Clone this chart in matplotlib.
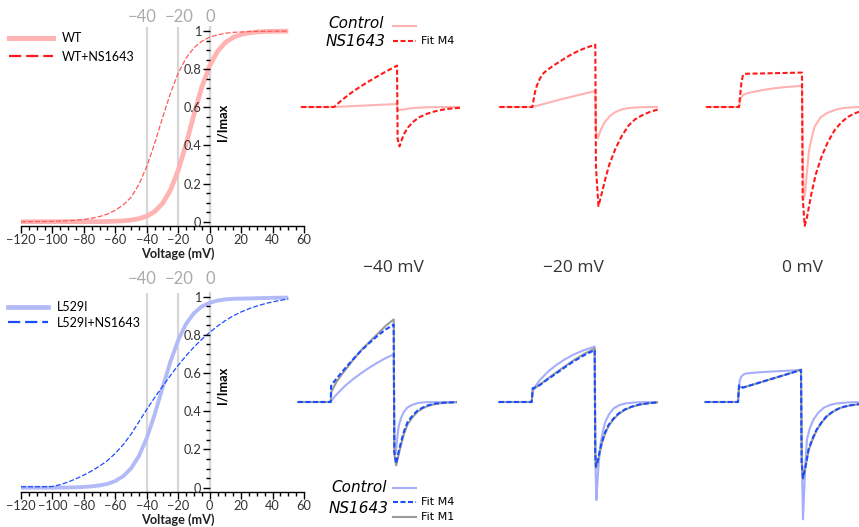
import numpy as np
import matplotlib
matplotlib.use("Agg")
import matplotlib.pyplot as plt
import matplotlib.transforms as mtransforms
from matplotlib.lines import Line2D
from matplotlib.ticker import MultipleLocator

plt.rcParams['font.family'] = ['Lato', 'DejaVu Sans']

# Activation curves (I/Imax), every 5 mV
voltage_mv = list(range(-120, 55, 5))
wt = [0.000, 0.000, 0.000, 0.000, 0.000, 0.000, 0.0001, 0.0001, 0.0002, 0.0004,
      0.0007, 0.0013, 0.0025, 0.0046, 0.0086, 0.016, 0.029, 0.053, 0.095, 0.165,
      0.269, 0.407, 0.562, 0.706, 0.818, 0.893, 0.940, 0.967, 0.982, 0.990,
      0.995, 0.997, 0.998, 0.999, 0.999]
wt_ns = [0.000, 0.000, 0.001, 0.001, 0.002, 0.003, 0.005, 0.008, 0.012, 0.018,
         0.027, 0.040, 0.060, 0.088, 0.128, 0.195, 0.290, 0.410, 0.545, 0.672,
         0.780, 0.858, 0.912, 0.946, 0.968, 0.980, 0.988, 0.993, 0.995, 0.997,
         0.998, 0.998, 0.999, 0.999, 0.999]
l529i = [0.000, 0.000, 0.000, 0.000, 0.000, 0.001, 0.001, 0.002, 0.004, 0.007,
         0.012, 0.020, 0.035, 0.060, 0.101, 0.166, 0.260, 0.383, 0.523, 0.659,
         0.773, 0.858, 0.914, 0.949, 0.968, 0.980, 0.986, 0.989, 0.990, 0.991,
         0.992, 0.993, 0.994, 0.995, 0.995]
l529i_ns = [0.005, 0.005, 0.005, 0.005, 0.006, 0.016, 0.030, 0.047, 0.066, 0.088,
            0.113, 0.142, 0.180, 0.225, 0.280, 0.345, 0.410, 0.472, 0.530, 0.587,
            0.641, 0.691, 0.736, 0.777, 0.813, 0.846, 0.875, 0.900, 0.920, 0.937,
            0.951, 0.963, 0.973, 0.981, 0.988]

marker_mv = [-40, -20, 0]
marker_labels = ['\u221240', '\u221220', '0']
ytick_vals = [0, 0.2, 0.4, 0.6, 0.8, 1]
ytick_labels = ['0', '0.2', '0.4', '0.6', '0.8', '1']
step_labels = ['\u221240 mV', '\u221220 mV', '0 mV']

# Current traces as (time ms, current a.u.), pulse runs from 0 to 100 ms
top_m40_ctrl = [(-52, 0), (0, 0), (100, 0.15), (101, -0.17), (110, -0.12), (126, -0.05),
                (150, -0.01), (200, 0)]
top_m40_m4 = [(-52, 0), (0, 0), (10, 0.28), (20, 0.53), (30, 0.77), (40, 0.98), (50, 1.18),
              (60, 1.37), (70, 1.55), (80, 1.73), (90, 1.90), (100, 2.07), (101, -1.6),
              (104, -1.97), (108, -1.6), (112, -1.3), (118, -1.0), (126, -0.73), (135, -0.52),
              (145, -0.37), (155, -0.26), (165, -0.18), (175, -0.12), (185, -0.08), (200, -0.04)]
top_m20_ctrl = [(-52, 0), (0, 0), (50, 0.42), (100, 0.8), (101, -1.2), (104, -1.58), (108, -1.2),
                (112, -0.92), (116, -0.72), (123, -0.45), (132, -0.25), (142, -0.12),
                (153, -0.05), (170, -0.01), (200, 0)]
top_m20_m4 = [(-52, 0), (0, 0), (2, 0.35), (4, 0.7), (7, 1.05), (12, 1.42), (18, 1.7), (25, 1.88),
              (35, 2.1), (45, 2.3), (55, 2.5), (65, 2.68), (75, 2.83), (85, 2.96), (100, 3.12),
              (101, -3.0), (105, -4.95), (108, -4.6), (112, -4.1), (116, -3.58), (122, -2.9),
              (132, -2.08), (142, -1.45), (153, -0.92), (163, -0.62), (174, -0.42), (187, -0.24),
              (200, -0.12)]
top_0_ctrl = [(-52, 0), (0, 0), (2, 0.35), (4, 0.5), (6.3, 0.6), (12, 0.68), (25, 0.77), (40, 0.86),
              (57, 0.94), (75, 1.0), (100, 1.06), (101.5, -3.0), (103, -4.6), (105, -4.3),
              (108, -3.2), (111, -2.2), (115, -1.6), (120, -0.98), (130, -0.5), (141, -0.28),
              (155, -0.12), (168, -0.04), (185, -0.01), (200, 0)]
top_0_m4 = [(-52, 0), (0, 0), (1.5, 0.5), (3.7, 1.18), (6.3, 1.6), (9, 1.66), (100, 1.72),
            (101, -4.5), (104.3, -5.94), (108, -5.5), (115, -4.32), (122, -3.35), (131, -2.49),
            (141, -1.75), (152, -1.15), (162, -0.78), (173, -0.49), (185, -0.3), (200, -0.15)]

bot_m40_ctrl = [(-52, 0), (0, 0), (5, 0.22), (10, 0.4), (22.5, 0.8), (35, 1.13), (48.7, 1.45),
                (62, 1.73), (75, 1.98), (87, 2.19), (100, 2.38), (101, -2.0), (102.5, -2.6),
                (104, -2.3), (106, -1.7), (108, -1.2), (111.7, -0.8), (116, -0.5), (122, -0.27),
                (127.6, -0.17), (138, -0.05), (150, -0.01), (200, 0)]
bot_m40_m4 = [(-52, 0), (0, 0), (0.6, 0.8), (5, 1.0), (10, 1.2), (22.5, 1.67), (35, 2.12),
              (48.7, 2.58), (62, 2.97), (75, 3.33), (87, 3.62), (100, 3.87), (101, -2.5),
              (103.8, -3.08), (107, -2.6), (111.7, -2.0), (116, -1.5), (122, -1.0), (130, -0.68),
              (138, -0.42), (146, -0.28), (154, -0.17), (166, -0.08), (180, -0.035), (200, -0.01)]
bot_m40_m1 = [(-52, 0), (0, 0), (1, 0.5), (4, 0.7), (10, 1.05), (22.5, 1.58), (35, 2.08),
              (48.7, 2.6), (62, 3.02), (75, 3.42), (87, 3.8), (100, 4.13), (101, -2.6),
              (104, -3.17), (107, -2.75), (112, -2.1), (116, -1.62), (122, -1.12), (130, -0.75),
              (138, -0.48), (146, -0.32), (154, -0.2), (166, -0.1), (180, -0.04), (200, -0.01)]
bot_m20_ctrl = [(-52, 0), (0, 0), (2, 0.55), (5, 0.75), (13, 1.1), (26, 1.52), (39, 1.85),
                (52, 2.12), (65, 2.35), (82, 2.58), (100, 2.77), (101.5, -3.5), (102.7, -4.9),
                (104.5, -3.9), (106.5, -3.0), (109, -2.15), (113, -1.45), (117, -0.98), (123, -0.6),
                (130, -0.32), (139, -0.16), (149, -0.07), (165, -0.02), (200, 0)]
bot_m20_m4 = [(-52, 0), (0, 0), (1.5, 0.69), (5, 0.72), (13, 0.85), (26, 1.15), (39, 1.43),
              (52, 1.72), (65, 2.0), (82, 2.32), (100, 2.6), (100.8, -2.5), (102, -3.23),
              (105, -2.9), (108, -2.45), (111.6, -1.98), (116, -1.55), (122, -1.15), (130, -0.82),
              (138, -0.57), (148, -0.37), (159, -0.23), (172, -0.12), (186, -0.06), (200, -0.02)]
bot_m20_m1 = [(-52, 0), (0, 0), (1.5, 0.6), (5, 0.7), (13, 0.87), (26, 1.18), (39, 1.48),
              (52, 1.77), (65, 2.05), (82, 2.38), (100, 2.68), (100.8, -2.6), (102, -3.3),
              (105, -3.0), (108, -2.55), (111.6, -2.05), (116, -1.62), (122, -1.2), (130, -0.86),
              (138, -0.6), (148, -0.39), (159, -0.24), (172, -0.13), (186, -0.06), (200, -0.02)]
bot_0_ctrl = [(-52, 0), (0, 0), (1.5, 0.6), (2.6, 1.05), (5.2, 1.27), (9, 1.38), (13, 1.43),
              (40, 1.5), (70, 1.55), (100, 1.6), (102, -4.0), (103.2, -5.87), (105, -4.5),
              (107, -3.0), (109.5, -1.87), (114, -1.3), (120, -0.87), (127, -0.55), (136, -0.29),
              (146, -0.15), (157, -0.07), (175, -0.02), (200, 0)]
bot_0_m4 = [(-52, 0), (0, 0), (1.6, 0.83), (7.8, 0.72), (30, 0.93), (55, 1.17), (80, 1.41),
            (100, 1.6), (101, -3.0), (103.2, -3.79), (106, -3.4), (109, -2.9), (112, -2.37),
            (118, -1.85), (125, -1.37), (133, -1.0), (141, -0.7), (151, -0.47), (162, -0.29),
            (175, -0.18), (189, -0.12), (200, -0.08)]
bot_0_m1 = [(-52, 0), (0, 0), (1.6, 0.76), (7.8, 0.72), (30, 0.93), (55, 1.17), (80, 1.41),
            (100, 1.62), (101, -3.0), (103.2, -3.85), (106, -3.45), (109, -2.95), (112, -2.42),
            (118, -1.9), (125, -1.4), (133, -1.02), (141, -0.72), (151, -0.48), (162, -0.3),
            (175, -0.19), (189, -0.12), (200, -0.08)]

PINK, RED = '#ffb3b3', '#ff1a1a'
LBLUE, BLUE, GRAY = '#a6aefc', '#1a4dff', '#9a9a9a'

W, H = 859, 527
fig = plt.figure(figsize=(W / 100, H / 100), dpi=100)


def box(x0, y0, x1, y1):
    # pixel box -> figure fraction rect
    return [x0 / W, 1 - y1 / H, (x1 - x0) / W, (y1 - y0) / H]


def activation_axes(rect, curves, label_frac, gray_frac, legend_anchor, legend_kw):
    ax = fig.add_axes(rect)
    ax.set_axisbelow(False)
    for v in marker_mv:
        ax.axvline(v, color='#d6d6d6', lw=1.6, zorder=0)
    handles = []
    for y, style, label, hstyle in curves:
        ax.plot(voltage_mv, y, **style)
        handles.append(Line2D([], [], label=label, **hstyle))
    ax.set_xlim(-120, 60)
    ax.set_ylim(-0.022, 1.022)
    for s in ['top', 'right']:
        ax.spines[s].set_visible(False)
    ax.spines['left'].set_position(('data', 0))
    ax.spines['left'].set_color('#d6d6d6')
    ax.spines['left'].set_linewidth(1.6)
    ax.spines['left'].set_zorder(0.5)
    ax.spines['bottom'].set_linewidth(1.0)
    ax.set_xticks(range(-120, 61, 20))
    ax.xaxis.set_minor_locator(MultipleLocator(5))
    ax.set_yticks(ytick_vals)
    ax.set_yticklabels(ytick_labels)
    ax.yaxis.set_minor_locator(MultipleLocator(0.05))
    ax.tick_params(which='major', direction='out', length=5, width=1, labelsize=9.2,
                   pad=1, color='black', labelcolor='#333333')
    ax.tick_params(which='minor', direction='out', length=3, width=1, color='black')
    ax.text(0.713, label_frac[0], 'I/Imax', rotation=90, transform=ax.transAxes,
            ha='center', va='center', fontsize=9.2, fontweight='bold')
    ax.text(0.553, label_frac[1], 'Voltage (mV)', transform=ax.transAxes,
            ha='center', va='center', fontsize=9.2, fontweight='bold', color='#222222')
    trans = mtransforms.blended_transform_factory(ax.transData, ax.transAxes)
    # the grey labels sit a little off their lines in the original
    for v, lab, shift in zip(marker_mv, marker_labels, [-3.2, 0.5, 0.3]):
        ax.text(v + shift, gray_frac, lab, transform=trans, ha='center', va='center',
                fontsize=12, color='#ababab')
    ax.legend(handles=handles, loc='upper left', bbox_to_anchor=legend_anchor,
              bbox_transform=fig.transFigure, frameon=False, borderpad=0,
              borderaxespad=0, fontsize=9, **legend_kw)
    return ax


activation_axes(
    box(21, 26.8, 304, 225.9),
    [(wt, dict(color=PINK, lw=3.4, solid_capstyle='butt'), 'WT',
      dict(color=PINK, lw=3.6)),
     (wt_ns, dict(color='#ff5a5a', lw=0.9, dashes=(4, 1.6)), 'WT+NS1643',
      dict(color=RED, lw=1.6, dashes=(5.5, 2.2)))],
    (0.52, -0.137), 1.048, (9 / W, 1 - 32.5 / H),
    dict(handlelength=3.5, handletextpad=0.7, labelspacing=0.5))

activation_axes(
    box(21, 292.5, 304, 491.9),
    [(l529i, dict(color='#b3baf8', lw=2.8, solid_capstyle='butt'), 'L529I',
      dict(color='#b3baf8', lw=3.4)),
     (l529i_ns, dict(color=BLUE, lw=0.9, dashes=(4, 1.6)), 'L529I+NS1643',
      dict(color=BLUE, lw=1.6, dashes=(5.5, 2.2)))],
    (0.536, -0.137), 1.068, (8 / W, 1 - 301 / H),
    dict(handlelength=3.2, handletextpad=0.7, labelspacing=0.3))

ctrl_top = dict(color=PINK, lw=1.5, zorder=2)
m4_top = dict(color=RED, lw=1.5, dashes=(2.4, 1.2), zorder=4)
ctrl_bot = dict(color=LBLUE, lw=1.5, zorder=2)
m1_bot = dict(color=GRAY, lw=1.5, zorder=3)
m4_bot = dict(color=BLUE, lw=1.5, dashes=(2.4, 1.2), zorder=4)


def trace_axes(onset_px, base_px, ylim, traces):
    ppm = 0.63       # px per ms
    ppu = 20         # px per current unit
    ax = fig.add_axes(box(onset_px - 60 * ppm, base_px - ylim[1] * ppu,
                          onset_px + 200 * ppm, base_px - ylim[0] * ppu))
    for data, style in traces:
        t, i = np.array(data).T
        ax.plot(t, i, **style)
    ax.set_xlim(-60, 200)
    ax.set_ylim(*ylim)
    ax.axis('off')
    ax.patch.set_alpha(0)
    return ax


top_ylim = (-6.5, 4.0)
trace_axes(334, 107, top_ylim, [(top_m40_ctrl, ctrl_top), (top_m40_m4, m4_top)])
trace_axes(532.3, 107, top_ylim, [(top_m20_ctrl, ctrl_top), (top_m20_m4, m4_top)])
trace_axes(739, 107, top_ylim, [(top_0_ctrl, ctrl_top), (top_0_m4, m4_top)])

bot_ylim = (-6.3, 4.5)
trace_axes(330.7, 402, bot_ylim, [(bot_m40_ctrl, ctrl_bot), (bot_m40_m1, m1_bot),
                                  (bot_m40_m4, m4_bot)])
trace_axes(531.7, 402, bot_ylim, [(bot_m20_ctrl, ctrl_bot), (bot_m20_m1, m1_bot),
                                  (bot_m20_m4, m4_bot)])
trace_axes(738, 402, bot_ylim, [(bot_0_ctrl, ctrl_bot), (bot_0_m1, m1_bot),
                                (bot_0_m4, m4_bot)])

# step voltage labels between the rows
for xc, lab in zip([393, 573, 802.5], step_labels):
    fig.text(xc / W, 1 - 268 / H, lab, ha='center', va='center', fontsize=12.5,
             family=['Open Sans', 'DejaVu Sans'], color='#333333')


# trace legends (hand placed, like the original)
def fig_line(x0, x1, y, **kw):
    fig.add_artist(Line2D([x0 / W, x1 / W], [1 - y / H, 1 - y / H],
                          transform=fig.transFigure, **kw))


def fig_label(x, y, s, **kw):
    fig.text(x / W, 1 - y / H, s, ha='left', va='center',
             family=['DejaVu Sans'], **kw)


fig_label(328, 23, 'Control', fontsize=11, style='italic')
fig_label(326, 41, 'NS1643', fontsize=11, style='italic')
fig_line(393, 416, 26, color=PINK, lw=1.5)
fig_line(393, 416, 40.7, color=RED, lw=1.5, dashes=(2.4, 1.2))
fig_label(421, 41, 'Fit M4', fontsize=8)

fig_label(331, 487.7, 'Control', fontsize=11, style='italic')
fig_label(329, 508.3, 'NS1643', fontsize=11, style='italic')
fig_line(393, 416, 487.7, color=LBLUE, lw=1.5)
fig_line(393, 416, 501.7, color=BLUE, lw=1.5, dashes=(2.4, 1.2))
fig_line(393, 416, 516.7, color=GRAY, lw=1.5)
fig_label(421, 501.7, 'Fit M4', fontsize=8)
fig_label(421, 517, 'Fit M1', fontsize=8)

fig.savefig('out.png', dpi=100)
